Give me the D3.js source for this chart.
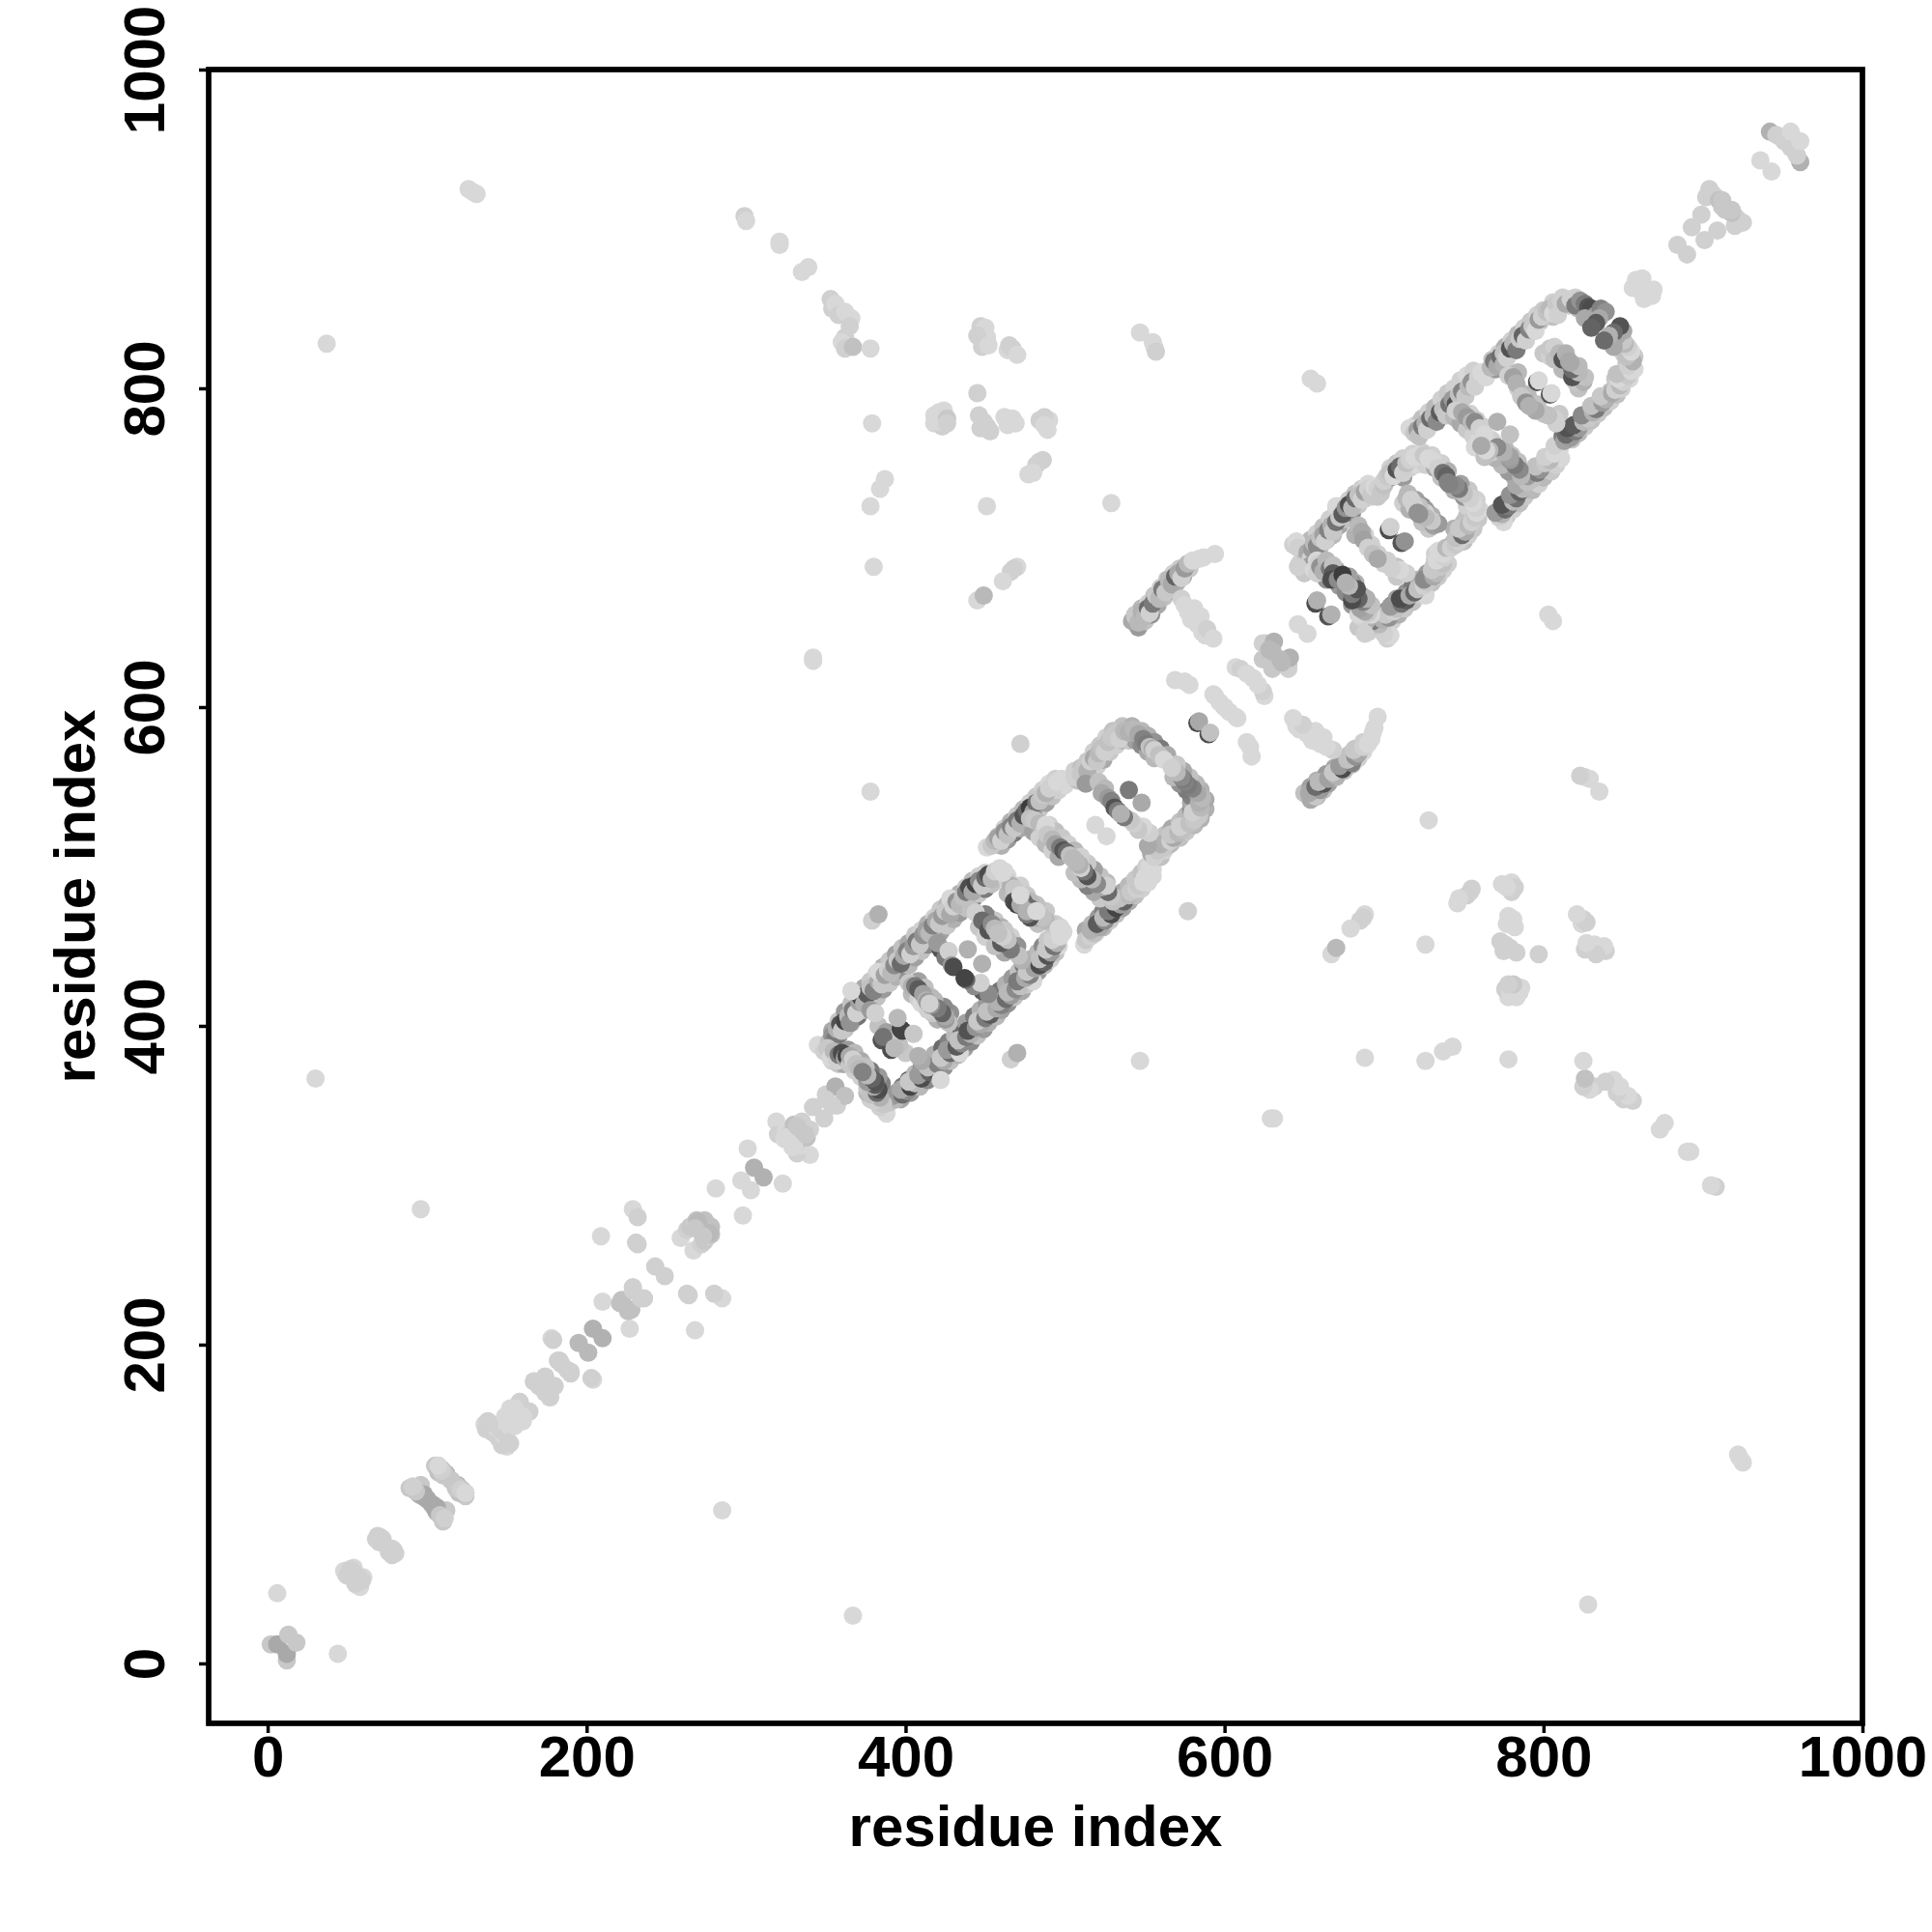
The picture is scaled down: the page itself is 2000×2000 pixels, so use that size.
<!DOCTYPE html>
<html><head><meta charset="utf-8">
<script src="https://cdn.jsdelivr.net/npm/d3@7/dist/d3.min.js"></script>
<style>html,body{margin:0;background:#fff}svg{display:block}</style></head>
<body><svg id="chart" width="2000" height="2000"></svg>
<script>
// Contact map: symmetric, so each contact is listed once as [i, j, score, mirrorScore].
// score: contact strength 0..100 as read from the grey level; mirrorScore is the (j, i) point, same as score if absent.
const xTickValues = [0,200,400,600,800,1000];
const yTickValues = [0,200,400,600,800,1000];
const axisTitle = "residue index";

const distantContacts = [
[126,925,0],[129,923,0],[131,922,0],[37,828,0],[299,908,5],[300,905,0],[321,892,0],[321,890,0],[335,873,0],[339,876,0],
[353,856,5],[354,850,5],[356,853,0],[358,846,5],[362,848,0],[366,844,0],[365,839,5],[362,832,5],[360,829,0],[362,825,5],[367,826,15],[378,825,0],
[447,839,5],[450,838,0],[451,832,0],[445,833,5],[448,826,5],[452,827,0],[464,824,0],[465,827,5],[467,825,5],[470,821,0],[547,835,0],[555,829,0],[556,826,0],[557,823,5],
[445,797,5],[379,778,0],[418,783,0],[418,778,0],[423,776,5],[424,786,0],[421,785,0],[421,779,0],[426,781,10],[426,778,5],[446,783,5],[447,775,5],[449,779,5],[451,776,5],[453,773,5],[462,782,0],[469,778,0],[467,781,0],[464,777,0],
[484,780,5],[490,780,0],[489,774,0],[487,782,5],[487,777,0],[486,755,5],[484,754,5],[482,752,5],[477,746,0],[480,747,0],[387,743,0],[384,737,0],[378,726,0],[451,726,0],[529,728,0],
[380,688,0],[470,688,0],[468,687,5],[466,685,5],[461,679,0],[445,667,0],[449,670,20],[342,629,0],[378,547,0],[472,577,5],
[30,367,0],[96,285,0],[631,342,0],[654,806,0],[658,803,0],[379,466,5],[383,470,25],
[575,616,0],[569,617,0],[578,614,0]
];
const nearDiagonal = [
[2,12,10],[6,12,30],[13,18,10],[6,44,0],
[48,58,0],[49,56,0],[52,59,5],[54,60,0],[54,57,5],[50,55,5],[59,52,5],[68,78,5],[70,76,5],[70,79,5],[72,78,5],[79,71,5],[80,69,5],
[89,110,10],[91,110,10],[93,108,15],[95,106,25],[96,112,10],[98,106,30],[100,103,25],[103,100,30],[105,97,30],[108,93,10],[111,91,5],
[105,124,10],[107,120,15],[107,124,15],[109,122,15],[110,118,10],[112,119,25],[115,115,10],[119,111,10],[121,109,5],[124,107,0],
[136,150,0],[137,147,5],[138,152,5],[140,149,5],[141,145,5],[145,150,5],[143,148,0],[147,146,5],[148,152,0],[150,155,5],[153,157,0],[158,164,5],[164,158,5],[155,160,0],[151,139,5],[155,149,0],[160,152,0],
[167,177,5],[170,174,5],[174,180,5],[177,167,5],[178,204,0],[179,203,5],[182,190,5],[184,188,5],[190,183,5],[195,201,20],[204,210,25],
[209,268,0],[210,227,0],[221,226,15],[222,228,15],[229,234,5],[236,229,5],[229,285,0],[232,280,5],[231,264,5],[232,263,5],[243,249,5],
[259,267,0],[263,272,5],[265,274,10],[268,276,5],[270,276,15],[269,278,15],[272,274,10],[274,278,15],[277,270,20],[273,268,10],[281,298,0],
[297,303,0],[305,311,25],[301,323,0],[319,340,0],[320,332,5],[325,335,0],[327,332,5],[330,338,15],[333,336,10],[335,340,5],[325,330,0],[337,332,10],[329,324,0],
[342,349,5],[350,357,5],[356,362,25,15],[354,350,5]
];
const ring1Outer = [
[354,397,30],[358,403,10,40],[362,409,40,20],[366,414,15,50],[370,419,5,10],[374,424,30,45],[378,428,10,15],[382,433,5,25],[386,437,25,35],[390,441,10,50],[394,445,35,15],[398,449,15,40],[402,452,30,25],[406,457,10,20],[410,460,5,35],[414,464,25,45],[418,468,5,15],[422,473,10,30],[426,476,20,10],[430,480,5,25],[434,483,25,40],[438,487,10,20],[442,491,20,5],[446,494,5,15],[450,496,5,0]
];
const ring1Inner = [
[358,394,50,30],[362,398,15,60],[366,402,30,75],[370,406,65,20],[374,410,20,45],[378,415,45,85],[382,418,15,25],[386,423,40,70],[390,427,10,55],[394,431,25,20],[398,435,45,70],[402,438,20,35],[406,443,35,60],[410,447,15,25],[414,451,50,40],[418,454,20,30],[422,459,35,65],[426,463,10,25],[430,467,25,40],[434,471,40,15],[438,474,15,60],[442,479,55,30],[446,483,10,20],[450,486,60,50],[454,489,15,10]
];
const ring1Strand = [
[345,388,0],[349,384,5],[352,390,15,10],[354,394,45,20],[356,392,60,40],[357,398,25,70],[359,401,85,50],[360,397,10,30],[362,403,95,95],[364,406,20,20],[365,402,45,10],[367,410,60,90],[369,408,5,40],[371,415,35,75],[372,418,95,85],[374,414,25,15],[376,420,80,55],[366,422,0,0],[378,424,15,30],[380,422,55,10],[383,428,30,70],[385,426,10,40],[383,434,0,0],[387,432,35,80],[389,435,5,50],[391,433,20,15],[393,438,50,60],[395,441,10,25],[397,439,70,85],[399,444,30,45],[401,447,55,30],[403,445,5,10],[405,450,40,60],[407,453,60,80],[409,451,10,15],[411,457,45,30],[413,460,35,55],[415,458,20,25],[417,463,55,70],[419,466,30,40],[421,464,10,20],[423,469,40,50],[425,472,10,15],[428,480,0,0],[428,470,30,60],[430,475,5,30],[432,478,45,55],[434,476,20,10],[436,481,15,35],[438,484,60,90],[440,487,90,75],[442,484,30,15],[444,489,95,85],[446,491,50,40],[448,488,10,10],[450,493,70,65],[452,495,90,25],[454,492,20,5],[456,497,5,0],[459,499,0,0],[462,497,0,0]
];
const ring1Rungs = [
[351,386,10],[354,378,5,5],[358,376,10,20],[361,376,30,10],[364,385,40,55],[368,383,20,40],[372,378,30,60],[368,372,5,5],[374,375,20,15],
[353,380,0,5],[355,384,20,25],[357,378,5,15],[358,382,60,70],[360,383,90,90],[362,380,30,25],[363,381,95,80],[365,376,10,40],[365,381,30,85],[367,379,5,75],[369,376,15,20],[371,373,20,55],
[383,400,15,10],[388,396,35,15],[391,390,15,10],
[378,410,40,30],[381,408,5,25],[385,391,85,90],[386,393,65,20],[397,398,95,95],[395,405,20,10],
[404,420,20,25],[408,417,5,10],[408,428,35,45],[412,424,15,50],[416,418,20,20],[410,414,0,5],
[402,427,10,15],[404,425,25,40],[406,425,60,30],[408,423,80,75],[411,420,35,60],[413,416,25,45],[414,415,40,5],
[425,447,50,40],[422,448,85,80],[425,443,60,50],[420,452,40,50],[427,447,5,5],[429,438,40,70],[430,437,90,95],[439,448,25,25],
[446,462,10,30],[450,456,5,15],[452,468,30,20],[456,466,10,5],[460,462,25,10],[450,470,55,45],
[441,473,15,25],[444,471,5,15],[448,466,70,60],[452,460,85,80],[454,464,50,15],[456,461,20,5],[458,458,15],
[464,483,20,15],[468,482,15,30],[472,488,5,10],[476,482,10,15],[478,478,20,20],[474,478,70,70],[464,494,0,5],
[464,491,5,10],[466,488,25,20],[468,486,10,15],[468,478,90,85],[470,476,95,60],[472,476,30,25],[472,482,0,0],[461,496,0,0]
];
const ring2Contacts = [
[458,519,15,5],[462,524,5,20],[466,528,25,10],[470,532,10,15],[474,536,20,35],[478,540,5,30],[482,544,10,15],[486,548,5,5],[490,552,0,0],[494,555,5,0],
[460,513,25,30],[464,517,40,20],[468,521,60,40],[472,524,30,55],[476,529,15,70],[480,532,45,25],[484,536,10,30],[488,540,35,20],[492,544,15,10],[496,548,5,15],[500,551,0,5],
[451,512,0],[454,513,10],[456,516,20,5],[458,518,35,15],[460,516,5,25],[462,522,45,30],[464,520,15,80],[466,525,55,50],[468,524,10,20],[470,529,60,90],[472,527,25,60],[474,532,85,95],[476,535,70,40],[478,537,100,75],[480,534,35,15],[482,540,65,20],[484,541,15,10],[486,545,10,5],[488,546,25,10],[490,549,5,0],[493,550,5,0],[495,553,0,0],[498,555,0,0],[500,553,0,0],
[506,560,5,15],[510,562,15,5],[514,566,10,20],[518,572,5,15],[522,576,10,10],[526,581,5,20],[530,585,15,25],[536,588,15,25],[542,588,25,30],[548,585,20,25],[552,582,25,20],[556,578,45,15],[560,574,60,30],[564,570,30,10],
[508,554,15,30],[512,557,25,10],[516,560,10,25],[520,563,5,15],[524,567,30,30],[528,572,10,15],[532,576,5,20],[536,579,20,45],[540,579,10,30],[544,579,35,55],[548,576,50,60],[552,572,30,45],[556,568,20,20],
[506,556,5],[510,558,10],[512,562,10],[514,560,25],[516,566,5],[518,568,30],[520,566,10],[521,571,20],[523,574,15],[525,572,5],[527,578,15],[529,581,10],[532,584,10],[534,580,5],[537,585,20],[540,584,25],[543,586,20],[546,583,30],[549,580,55],[551,577,60],[553,575,15,55],[555,574,30,60],[556,573,5,50],[559,570,15,20],[562,567,0,5],
[480,522,35,10],[484,518,5,30],[488,514,20,55],[492,510,5,20],[496,506,30,15],[490,526,5,20],[494,522,15,15],[498,518,10,35],[502,514,5,10],[506,510,20,5],
[478,530,15],[481,529,10],[484,527,20,70],[487,523,5,30],[488,526,0,5],[489,520,10,50],[492,517,20,20],[494,514,35,85],[497,512,60,65],[499,510,85,5],[501,509,70,25],[503,507,15,20],[505,505,20],
[513,552,40,30],[521,553,15,5],[525,549,20,0],[523,546,30,10],[527,543,40,5],[529,541,55,10],[531,537,85,60],[533,535,60,25],[540,548,60,30],[519,526,0,0]
];
const tFeature = [
[544,658,10,25],[548,662,20,15],[552,665,5,35],[556,670,15,20],[560,675,5,15],[564,680,10,20],[568,684,5,5],[572,687,10,0],[546,650,40,15],[550,654,15,35],[554,658,45,25],[558,664,30,40],[562,669,15,30],[566,673,50,20],[570,678,25,15],[574,682,35,10],[578,687,10,5],
[542,654,30],[544,657,10],[546,653,20,30],[548,660,25,40],[550,657,20,70],[552,662,70,85],[553,659,5,20],[555,665,60,35],[557,670,10,25],[559,668,20,10],[561,674,60,90],[563,672,10,40],[565,680,20,55],[567,677,30,15],[569,682,75,45],[571,684,30,30],[573,681,5,10],[575,687,40,5],[577,690,20,0],[580,692,0,0],[584,693,0,0],[587,694,0,0],[594,696,0,0],
[573,668,5],[575,664,0],[577,660,0],[579,655,0],[581,662,0],[583,652,0],[585,657,0],[586,647,0],[588,645,0],[589,649,5],[593,643,0],
[583,590,90,90],[584,591,30,15],[593,608,0],[597,603,0],[607,594,0],[600,600,0],
[607,625,0],[610,624,5],[614,621,0],[618,618,0],[624,630,10],[626,640,10],[624,640,5],[631,641,25],[628,636,20],[630,635,20],[646,652,0]
];
const ring3Contacts = [
[650,700,5,10],[654,705,20,5],[658,709,5,25],[662,713,15,10],[666,718,5,15],[670,722,5,10],[674,726,25,10],[678,730,5,15],[682,734,15,10],[686,737,5,5],[690,740,0,5],
[652,692,30,40],[656,696,55,20],[660,701,25,50],[664,705,45,70],[668,708,20,35],[672,714,30,45],[676,718,15,60],[680,722,50,25],[684,727,10,40],[688,731,25,15],[692,732,5,10],[696,732,10,5],
[643,702,5],[645,704,0],[646,700,5],[647,690,5],[650,688,0],[651,693,15,10],[652,697,30,20],[654,693,5,60],[655,699,40,25],[656,703,20,45],[658,701,50,10],[660,706,15,5],[662,708,35,15],[663,704,5,40],[665,711,55,65],[667,714,25,80],[668,710,10,90],[670,716,65,30],[670,726,0,0],[672,719,10,75],[674,721,80,15],[676,725,45,5],[678,727,90,10],[680,725,20,50],[682,731,70,30],[684,733,15,20],[686,730,5,10],[688,735,35,10],[690,737,5,15],[692,733,10,0],[694,738,0,5],[696,737,5,0],[698,734,10,0],
[704,750,5,15],[708,753,10,5],[712,756,5,10],[718,759,5,10],[724,760,5,0],[730,758,5,5],[736,753,5,10],[740,748,25,35],[700,739,15,20],[704,744,45,25],[708,746,25,45],[712,744,40,25],[716,750,5,15],[720,752,0,15],[726,752,5,5],[732,750,30,45],[736,744,15,25],
[700,742,5],[702,745,10],[704,747,15,5],[706,745,0,15],[708,749,85,70],[710,751,70,30],[712,747,5,10],[714,753,15,20],[716,755,5,5],[719,757,0,10],[722,758,0,0],[725,758,10,5],[728,756,0,0],[731,754,0,5],[734,750,5,15],[737,747,65,60],[739,745,75,50],[741,740,55,55],
[682,708,25,10],[688,708,5,15],[692,702,5,5],[696,696,5],[712,728,5,10],[716,724,25,15],[720,730,35,25],[724,726,50,40],[726,722,5,15],
[684,714,20,5],[686,710,30,0],[687,705,35,5],[690,700,5,5],[693,696,15,30],[714,731,20,35],[715,734,20,40],[717,730,5,10],[719,726,5,20],[721,722,45,45],[703,711,90,85],[704,713,5,45],
[650,684,10,10],[654,689,35,25],[660,684,40,35],[664,680,45,40],[670,686,35,30],[672,676,40,50],[678,682,35,25],[680,678,45,35],
[646,688,5],[656,686,0,5],[658,692,0,0],[658,684,5,0],[659,690,5,10],[660,688,45,30],[662,685,25,35],[664,692,20,15],[666,687,60,55],[668,689,15,25],[668,684,80,75],[667,680,90,90],[671,680,50,60],[674,683,100,85],[676,678,85,80],[678,676,20,25],
[657,665,90,85],[658,667,25,25]
];
const ring4Contacts = [
[720,777,5,10],[724,781,15,5],[728,785,5,15],[732,788,20,10],[736,793,5,20],[740,797,10,5],[744,800,5,20],[748,805,5,10],[752,808,0,5],[756,811,5,0],
[722,770,25,40],[726,774,50,30],[730,778,15,60],[734,783,40,25],[738,786,20,50],[742,790,45,30],[746,794,10,25],[750,798,35,40],[754,802,10,15],[758,806,15,10],
[716,775,0],[719,772,10,5],[721,774,35,25],[722,770,15,40],[724,776,60,70],[726,778,25,60],[727,774,5,85],[729,781,70,20],[731,783,20,65],[733,779,50,45],[735,785,80,75],[737,787,15,20],[739,783,10,30],[741,790,65,15],[743,793,40,15],[745,790,85,40],[747,796,15,60],[749,798,55,45],[751,795,10,15],[753,801,20,10],[755,804,45,20],[757,801,5,5],[759,807,5,0],[761,810,0,0],[764,807,0,5],
[744,782,20,30],[748,778,30,40],[752,774,10,20],[756,770,5,25],[760,768,0,10],[754,784,5,15],[758,780,10,15],[762,776,5,20],[767,768,0,5],
[745,786,5,20],[749,785,30,50],[752,782,40,60],[755,779,20,40],[757,779,50,35],[760,775,5,25],[763,771,0,50],[757,763,0,15],[761,766,0,20],[764,761,0,30],[771,779,25,15]
];
const ring5Contacts = [
[768,818,15,10],[772,822,5,20],[776,826,25,10],[780,830,5,15],[784,834,20,10],[788,838,5,15],[792,842,10,5],[796,846,5,15],[800,849,10,5],[806,854,5,0],[812,857,5,0],[820,857,5,10],
[770,812,40,60],[774,817,25,75],[778,822,60,30],[782,824,20,45],[786,829,45,20],[790,834,15,35],[794,836,30,20],[798,842,10,15],[802,846,5,25],[806,845,15,10],[810,850,10,15],[816,852,10,10],[822,850,20,5],[826,848,10,20],
[767,813,20,35],[769,817,60,40],[771,814,30,70],[773,820,70,60],[775,822,15,40],[775,815,25,85],[777,819,5,80],[779,825,85,20],[781,828,20,10],[783,824,60,50],[785,831,10,25],[787,833,75,60],[789,830,5,15],[791,837,55,40],[793,839,10,25],[795,836,0,10],[797,843,40,30],[799,845,5,5],[802,848,15,20],[804,850,20,5],[806,847,0,0],[808,853,10,10],[809,846,5,15],[811,855,5,0],[814,853,30,5],[817,856,5,25],[820,852,60,15],[823,855,45,0],[826,853,60,5],[828,851,85,20],[830,850,90,10],[833,846,40,30],[836,850,55,30],[839,848,45,85],[835,844,30,70],[826,844,30,30],[833,841,80,25],[830,838,75,70],
[800,822,10,15],[804,820,5,10],[808,818,25,10],[812,812,20,20],[784,810,20,10],[778,808,5,5],[784,800,5,10],[790,796,20,15],
[781,807,35,5],[783,803,25,15],[786,795,10,30],[789,791,45,25],[796,804,90,85],[797,805,0,0],[804,825,10,25],[807,826,5,15],[807,818,15,85],[810,822,20,20],[812,818,85,70],[814,822,25,20],[816,817,30,30]
];
const upperTail = [
[856,863,0],[858,868,0],[862,869,0],[860,862,0],[865,860,0],[884,890,5],[893,901,5],[899,909,5],[902,920,5],[904,925,5],[906,922,5],[908,920,5],[910,918,15],[912,918,10],[912,914,10],
[936,943,0],[942,961,25],[946,959,5],[948,958,5],[951,955,5],[955,961,0]
];

const contactLists = [distantContacts, nearDiagonal, ring1Outer, ring1Inner, ring1Strand, ring1Rungs, ring2Contacts, tFeature, ring3Contacts, ring4Contacts, ring5Contacts, upperTail];

const svg = d3.select("#chart");
const x = d3.scaleLinear().domain([-37,1000]).range([216,1928]);
const y = d3.scaleLinear().domain([-37.6,1000]).range([1784,72]);
const grey = d3.scaleLinear().domain([0,100]).range([216,60]);
const fill = s => { const g = Math.round(grey(s)); return `rgb(${g},${g},${g})`; };

const points = [];
contactLists.forEach(list => list.forEach(([i,j,s,t]) => {
  points.push({px:i, py:j, s});
  points.push({px:j, py:i, s: t === undefined ? s : t});
}));

svg.append("g").selectAll("circle").data(points).join("circle")
  .attr("cx", d => x(d.px)).attr("cy", d => y(d.py)).attr("r", 9.5)
  .attr("fill", d => fill(d.s));

svg.append("rect").attr("x", x.range()[0]).attr("y", y.range()[1])
  .attr("width", x.range()[1]-x.range()[0]).attr("height", y.range()[0]-y.range()[1])
  .attr("fill","none").attr("stroke","#000").attr("stroke-width",5.7);

const fontCss = {family:'"Liberation Sans", Arial, Helvetica, sans-serif', size:60};
const gx = svg.append("g").attr("transform",`translate(0,${y.range()[0]})`)
  .call(d3.axisBottom(x).tickValues(xTickValues).tickFormat(d3.format("d")).tickSize(10).tickSizeOuter(0));
const gy = svg.append("g").attr("transform",`translate(${x.range()[0]},0)`)
  .call(d3.axisLeft(y).tickValues(yTickValues).tickFormat(d3.format("d")).tickSize(10).tickSizeOuter(0));
[gx,gy].forEach(g => { g.select(".domain").remove();
  g.selectAll(".tick line").attr("stroke","#000").attr("stroke-width",3.5);
  g.selectAll("text").attr("fill","#000").attr("font-family",fontCss.family).attr("font-size",fontCss.size).attr("font-weight","bold"); });
gx.selectAll("text").attr("y",55).attr("dy",0).attr("text-anchor","middle");
gy.selectAll("text").attr("x",0).attr("dy",0).attr("y",-46).attr("text-anchor","middle").attr("transform","rotate(-90)");

svg.append("text").attr("x",1072).attr("y",1911).attr("text-anchor","middle")
  .attr("font-family",fontCss.family).attr("font-size",fontCss.size).attr("font-weight","bold").text(axisTitle);
svg.append("text").attr("transform","translate(98,928) rotate(-90)").attr("text-anchor","middle")
  .attr("font-family",fontCss.family).attr("font-size",fontCss.size).attr("font-weight","bold").text(axisTitle);
</script></body></html>
